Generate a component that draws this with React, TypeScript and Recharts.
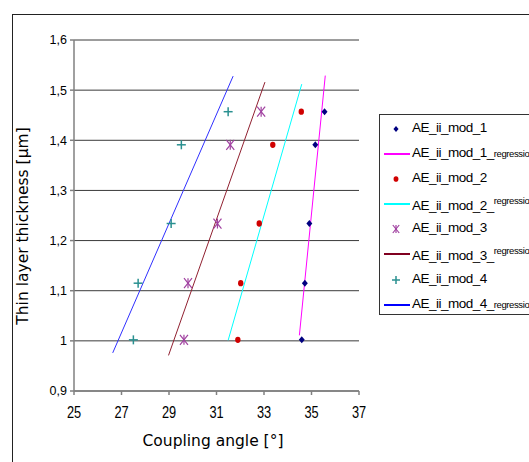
import React from 'react'
import { ScatterChart, Scatter, XAxis, YAxis, CartesianGrid } from 'recharts'

// measured thickness levels [µm], shared by all four series
const thickness = [1.002, 1.115, 1.234, 1.391, 1.457]
// coupling angles [°] for each sample
const mod1Angle = [34.59, 34.72, 34.91, 35.16, 35.55]
const mod2Angle = [31.9, 32.02, 32.8, 33.37, 34.57]
const mod3Angle = [29.63, 29.8, 31.04, 31.58, 32.88]
const mod4Angle = [27.5, 27.7, 29.09, 29.52, 31.49]

// regression line end points
const reg1Angle = [34.49, 35.58]
const reg1Thick = [1.011, 1.529]
const reg2Angle = [31.49, 34.59]
const reg2Thick = [1.001, 1.512]
const reg3Angle = [28.98, 33.04]
const reg3Thick = [0.971, 1.516]
const reg4Angle = [26.63, 31.7]
const reg4Thick = [0.976, 1.528]

const xTicks = [25, 27, 29, 31, 33, 35, 37]
const yTicks = [0.9, 1, 1.1, 1.2, 1.3, 1.4, 1.5, 1.6]

const toPoints = (xs: number[], ys: number[]) => xs.map((x, i) => ({ x, y: ys[i] }))

const C1 = '#000080'
const C2 = '#d00000'
const C3 = '#a040a0'
const C4 = '#2a9090'

function Diamond({ cx, cy, s = 3.5 }: any) {
  return <polygon points={`${cx},${cy - s} ${cx + s * 0.85},${cy} ${cx},${cy + s} ${cx - s * 0.85},${cy}`} fill={C1} />
}
function Dot({ cx, cy, s = 3 }: any) {
  return <ellipse cx={cx} cy={cy} rx={s * 0.9} ry={s * 1.05} fill={C2} />
}
function Star({ cx, cy, s = 5 }: any) {
  return (
    <g stroke={C3} strokeWidth={1.2}>
      <line x1={cx - s * 0.8} y1={cy - s} x2={cx + s * 0.8} y2={cy + s} />
      <line x1={cx + s * 0.8} y1={cy - s} x2={cx - s * 0.8} y2={cy + s} />
      <line x1={cx} y1={cy - s} x2={cx} y2={cy + s} />
    </g>
  )
}
function Plus({ cx, cy, s = 4.5 }: any) {
  return (
    <g stroke={C4} strokeWidth={1.5}>
      <line x1={cx - s} y1={cy} x2={cx + s} y2={cy} />
      <line x1={cx} y1={cy - s} x2={cx} y2={cy + s} />
    </g>
  )
}
const NoShape = () => <g />

// narrow x tick labels, like the original
function XTick({ x, y, payload }: any) {
  return (
    <text
      transform={`translate(${x},${y}) scale(0.8,1)`}
      textAnchor="middle"
      dy="0.71em"
      fontSize={16}
      fontFamily="Liberation Sans, Arial"
      fill="#000"
    >
      {payload.value}
    </text>
  )
}

const yFmt = (v: number) => (v === 1 ? '1' : v.toFixed(1).replace('.', ','))

const legendRows = [
  { name: 'AE_ii_mod_1', icon: <Diamond cx={12} cy={6} s={3} /> },
  { name: 'AE_ii_mod_1_', sup: false, color: '#ff00ff' },
  { name: 'AE_ii_mod_2', icon: <Dot cx={12} cy={6} s={2.7} /> },
  { name: 'AE_ii_mod_2_', sup: true, color: '#00ffff' },
  { name: 'AE_ii_mod_3', icon: <Star cx={12} cy={6} s={4} /> },
  { name: 'AE_ii_mod_3_', sup: true, color: '#800020' },
  { name: 'AE_ii_mod_4', icon: <Plus cx={12} cy={6} s={4} /> },
  { name: 'AE_ii_mod_4_', sup: false, color: '#0000ff' },
]

export default function App() {
  return (
    <div style={{ position: 'absolute', left: 0, top: 0, width: 529, height: 462, overflow: 'hidden', background: '#fff' }}>
      <div style={{ position: 'absolute', left: 12, top: 14, width: 600, height: 500, border: '1px solid #222' }} />
      <div style={{ position: 'absolute', left: 0, top: 0 }}>
        <ScatterChart width={529} height={462} margin={{ top: 40, right: 170, bottom: 0, left: 0 }}>
          <CartesianGrid vertical={false} stroke="#3a3a3a" strokeWidth={1} />
          <XAxis
            type="number"
            dataKey="x"
            domain={[25, 37]}
            ticks={xTicks}
            height={71}
            stroke="#808080"
            strokeWidth={1.5}
            tickSize={4}
            tickMargin={12}
            tick={<XTick />}
          />
          <YAxis
            type="number"
            dataKey="y"
            domain={[0.9, 1.6]}
            ticks={yTicks}
            width={74}
            stroke="#808080"
            strokeWidth={1.5}
            tickSize={4}
            tickMargin={3}
            tickFormatter={yFmt}
            tick={{ fontSize: 12.5, fill: '#000', fontFamily: 'Liberation Sans, Arial' }}
          />
          <Scatter data={toPoints(reg1Angle, reg1Thick)} line={{ stroke: '#ff00ff', strokeWidth: 1 }} shape={NoShape} isAnimationActive={false} />
          <Scatter data={toPoints(reg2Angle, reg2Thick)} line={{ stroke: '#00ffff', strokeWidth: 1 }} shape={NoShape} isAnimationActive={false} />
          <Scatter data={toPoints(reg3Angle, reg3Thick)} line={{ stroke: '#902030', strokeWidth: 1 }} shape={NoShape} isAnimationActive={false} />
          <Scatter data={toPoints(reg4Angle, reg4Thick)} line={{ stroke: '#3030ff', strokeWidth: 1 }} shape={NoShape} isAnimationActive={false} />
          <Scatter data={toPoints(mod1Angle, thickness)} shape={Diamond} isAnimationActive={false} />
          <Scatter data={toPoints(mod2Angle, thickness)} shape={Dot} isAnimationActive={false} />
          <Scatter data={toPoints(mod3Angle, thickness)} shape={Star} isAnimationActive={false} />
          <Scatter data={toPoints(mod4Angle, thickness)} shape={Plus} isAnimationActive={false} />
        </ScatterChart>
      </div>
      <div
        style={{
          position: 'absolute', left: 213, top: 441, transform: 'translate(-50%,-50%)', whiteSpace: 'nowrap',
          fontFamily: 'DejaVu Sans', fontSize: 15.5, color: '#000', lineHeight: 'normal',
        }}
      >
        Coupling angle [°]
      </div>
      <div
        style={{
          position: 'absolute', left: 23, top: 226, transform: 'translate(-50%,-50%) rotate(-90deg)', whiteSpace: 'nowrap',
          fontFamily: 'DejaVu Sans', fontSize: 15.5, color: '#000', lineHeight: 'normal',
        }}
      >
        Thin layer thickness [µm]
      </div>
      <div
        style={{
          position: 'absolute', left: 379, top: 114, width: 200, height: 201, border: '1px solid #333',
          background: '#fff', boxSizing: 'border-box', paddingTop: 1.5,
        }}
      >
        {legendRows.map((r, i) => (
          <div key={i} style={{ position: 'relative', height: 25.1, fontFamily: 'Liberation Sans, Arial', fontSize: 13.5, color: '#000' }}>
            <svg width={32} height={12} style={{ position: 'absolute', left: 4, top: 6.5 }}>
              {r.icon ? r.icon : <line x1={0} y1={6} x2={26} y2={6} stroke={r.color} strokeWidth={2} />}
            </svg>
            <span style={{ position: 'absolute', left: 32, top: 3.5, whiteSpace: 'nowrap', letterSpacing: -0.5 }}>
              {r.name}
              {r.icon ? null : (
                <span style={{ fontSize: 9.5, letterSpacing: -0.4, verticalAlign: r.sup ? 'super' : 'baseline' }}>regression</span>
              )}
            </span>
          </div>
        ))}
      </div>
    </div>
  )
}
